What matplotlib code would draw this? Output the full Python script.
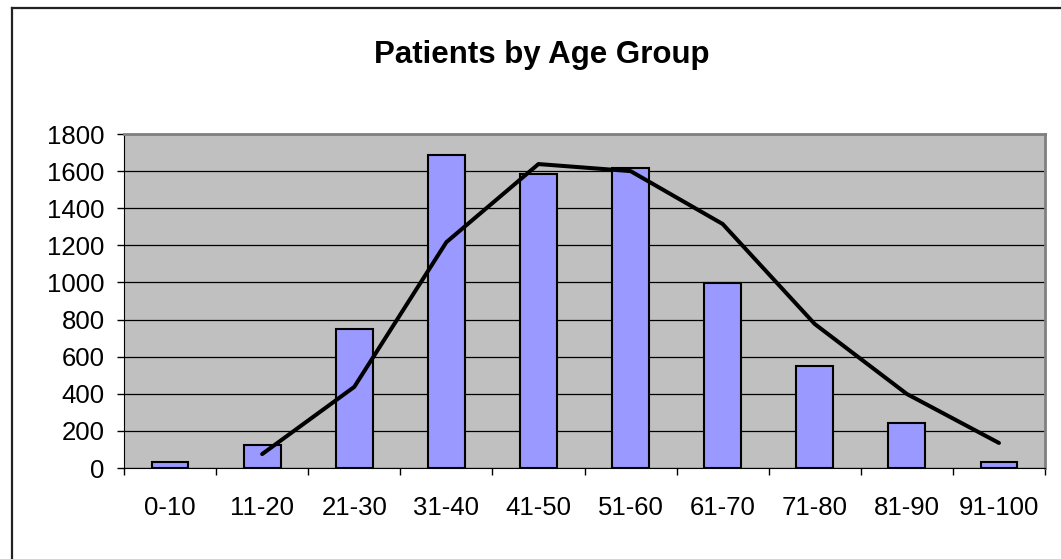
import numpy as np
import matplotlib
matplotlib.use("Agg")
import matplotlib.pyplot as plt
from matplotlib.lines import Line2D

age_groups = ["0-10", "11-20", "21-30", "31-40", "41-50",
              "51-60", "61-70", "71-80", "81-90", "91-100"]
patients = [32, 124, 749, 1686, 1584, 1617, 997, 550, 242, 32]
# trend line starts at the second group
trend_groups = age_groups[1:]
trend = [75, 437, 1217, 1638, 1600, 1315, 776, 399, 135]
y_ticks = [0, 200, 400, 600, 800, 1000, 1200, 1400, 1600, 1800]

plt.rcParams["font.family"] = ["Liberation Sans", "DejaVu Sans"]

fig = plt.figure(figsize=(10.61, 5.59), dpi=100)
ax = fig.add_axes([124 / 1061, 1 - 468 / 559, (1045 - 124) / 1061, (468 - 134) / 559])
ax.set_facecolor("#C0C0C0")

x = np.arange(len(age_groups))
ax.bar(x, patients, width=0.4, color="#9999FF", edgecolor="black", linewidth=1.5, zorder=3)
x_trend = [age_groups.index(g) for g in trend_groups]
ax.plot(x_trend, trend, color="black", linewidth=2.9, solid_capstyle="round", zorder=4)

ax.set_xlim(-0.5, len(age_groups) - 0.5)
ax.set_ylim(0, 1800)
ax.set_yticks(y_ticks)
ax.yaxis.grid(True, color="black", linewidth=0.9, zorder=1)
ax.set_axisbelow(True)

# ticks between categories, labels at centres
ax.set_xticks(np.arange(-0.5, len(age_groups), 1.0))
ax.set_xticklabels([])
ax.set_xticks(x, minor=True)
ax.set_xticklabels(age_groups, minor=True)
ax.tick_params(axis="x", which="major", direction="out", length=5, width=1, color="black")
ax.tick_params(axis="x", which="minor", length=0, pad=20, labelsize=18.5)
ax.tick_params(axis="y", direction="out", length=5, width=1, color="black", pad=9, labelsize=18.5)

ax.spines["top"].set_color("#808080")
ax.spines["right"].set_color("#808080")
ax.spines["top"].set_linewidth(2)
ax.spines["right"].set_linewidth(2)
ax.spines["left"].set_color("black")
ax.spines["bottom"].set_color("black")

fig.text(542 / 1061, 1 - 55 / 559, "Patients by Age Group", ha="center", va="center",
         fontsize=22.5, fontweight="bold")

# chart area frame (only left and top edges are visible in the picture)
fig.add_artist(Line2D([11.5 / 1061, 11.5 / 1061], [0, 1 - 8 / 559], color="#222222", linewidth=1.6))
fig.add_artist(Line2D([11.5 / 1061, 1], [1 - 8 / 559, 1 - 8 / 559], color="#222222", linewidth=1.6))

fig.savefig("out.png", dpi=100)
